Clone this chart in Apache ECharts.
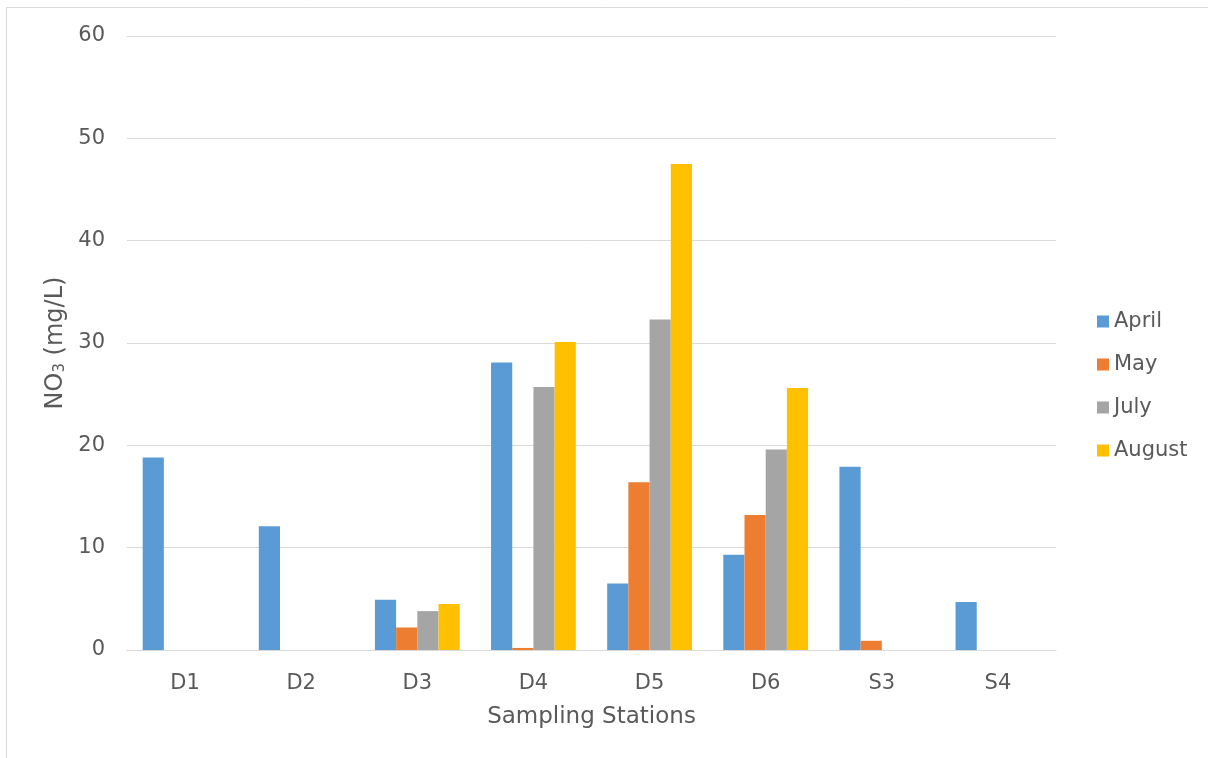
<!DOCTYPE html>
<html>
<head>
<meta charset="utf-8">
<script src="https://cdn.jsdelivr.net/npm/echarts@6/dist/echarts.min.js"></script>
<style>
  html, body { margin: 0; padding: 0; background: #ffffff; }
  #chart { width: 1208px; height: 758px; }
</style>
</head>
<body>
<div id="chart"></div>
<script>
// Nitrate concentration per sampling station, by month
const stations = ['D1', 'D2', 'D3', 'D4', 'D5', 'D6', 'S3', 'S4'];
const april  = [18.8, 12.1, 4.9, 28.1, 6.5, 9.3, 17.9, 4.7];
const may    = [0, 0, 2.2, 0.2, 16.4, 13.2, 0.9, 0];
const july   = [0, 0, 3.8, 25.7, 32.3, 19.6, 0, 0];
const august = [0, 0, 4.5, 30.1, 47.5, 25.6, 0, 0];
const yTicks = [0, 10, 20, 30, 40, 50, 60];

const FONT = 'DejaVu Sans';
const TEXT = '#595959';
const GRID = '#D9D9D9';

const seriesDefs = [
  { name: 'April',  data: april,  color: '#5B9BD5' },
  { name: 'May',    data: may,    color: '#ED7D31' },
  { name: 'July',   data: july,   color: '#A5A5A5' },
  { name: 'August', data: august, color: '#FFC000' }
];

const chart = echarts.init(document.getElementById('chart'), null, { renderer: 'canvas' });

chart.setOption({
  backgroundColor: '#ffffff',
  animation: false,
  textStyle: { fontFamily: FONT, color: TEXT },
  graphic: [{
    type: 'rect',
    shape: { x: 6.5, y: 7.5, width: 1220, height: 780 },
    style: { fill: 'none', stroke: GRID, lineWidth: 1 },
    silent: true
  }],
  grid: { left: 127, right: 152, top: 36, bottom: 108 },
  legend: {
    orient: 'vertical',
    left: 1097,
    top: 311,
    padding: 0,
    itemWidth: 12,
    itemHeight: 12,
    itemGap: 22,
    icon: 'rect',
    textStyle: { fontFamily: FONT, fontSize: 21, color: TEXT, lineHeight: 20 },
    data: seriesDefs.map(s => s.name)
  },
  xAxis: {
    type: 'category',
    data: stations,
    name: 'Sampling Stations',
    nameLocation: 'middle',
    nameGap: 56,
    nameTextStyle: { fontFamily: FONT, fontSize: 23, color: TEXT },
    axisLine: { lineStyle: { color: GRID, width: 1 } },
    axisTick: { show: false },
    axisLabel: { fontFamily: FONT, fontSize: 21, color: TEXT, margin: 23 }
  },
  yAxis: {
    type: 'value',
    min: yTicks[0],
    max: yTicks[yTicks.length - 1],
    interval: 10,
    name: '{a|NO}{s|3}{a| (mg/L)}',
    nameLocation: 'middle',
    nameRotate: 90,
    nameGap: 56,
    nameTextStyle: {
      rich: {
        a: { fontFamily: FONT, fontSize: 24, color: TEXT, lineHeight: 30, verticalAlign: 'bottom' },
        s: { fontFamily: FONT, fontSize: 15, color: TEXT, lineHeight: 22, verticalAlign: 'bottom' }
      }
    },
    axisLine: { show: false },
    axisTick: { show: false },
    axisLabel: { fontFamily: FONT, fontSize: 21, color: TEXT, margin: 22 },
    splitLine: { lineStyle: { color: GRID, width: 1 } }
  },
  series: seriesDefs.map(s => ({
    name: s.name,
    type: 'bar',
    data: s.data,
    barGap: '0%',
    barCategoryGap: '27%',
    itemStyle: { color: s.color }
  }))
});
</script>
</body>
</html>
